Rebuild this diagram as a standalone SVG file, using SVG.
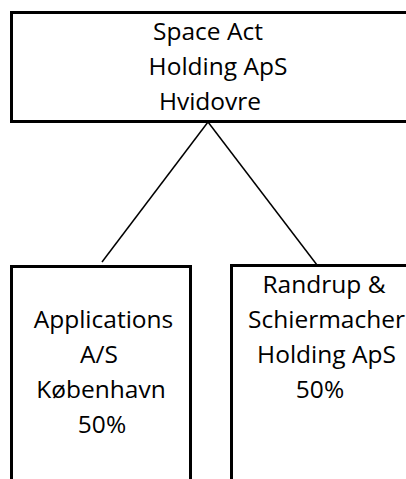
<svg xmlns="http://www.w3.org/2000/svg" width="406" height="479" viewBox="0 0 406 479">
<style>
.box{fill:#fff;stroke:#000;stroke-width:3}
.lbl{font-family:"Open Sans","Liberation Sans",sans-serif;font-size:24.5px;fill:#000;text-anchor:middle}
.conn{stroke:#000;stroke-width:1.5;fill:none}
</style>
<rect width="406" height="479" fill="#fff"/>
<g id="connectors">
<line class="conn" x1="208" y1="122" x2="102" y2="262"/>
<line class="conn" x1="208" y1="122" x2="317" y2="265"/>
</g>
<g id="node-space-act">
<rect class="box" x="11.5" y="12.5" width="400" height="109"/>
<text class="lbl" x="208" y="40">Space Act</text>
<text class="lbl" x="218" y="74.5">Holding ApS</text>
<text class="lbl" x="210" y="109.5">Hvidovre</text>
</g>
<g id="node-applications">
<rect class="box" x="11.5" y="266.5" width="179" height="300"/>
<text class="lbl" x="103.5" y="328">Applications</text>
<text class="lbl" x="99" y="363">A/S</text>
<text class="lbl" x="101" y="398">København</text>
<text class="lbl" x="102" y="433">50%</text>
</g>
<g id="node-randrup">
<rect class="box" x="231.5" y="265.5" width="200" height="300"/>
<text class="lbl" x="324" y="293">Randrup &amp;</text>
<text class="lbl" x="326.5" y="328">Schiermacher</text>
<text class="lbl" x="326.5" y="363">Holding ApS</text>
<text class="lbl" x="320" y="398">50%</text>
</g>
</svg>
